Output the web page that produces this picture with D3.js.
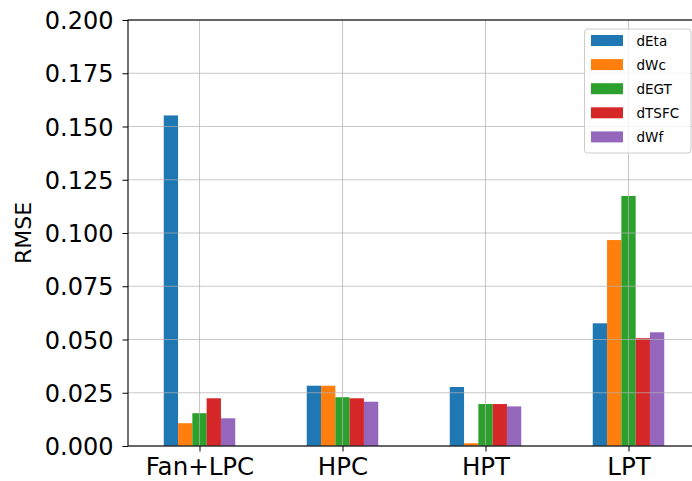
<!DOCTYPE html>
<html>
<head>
<meta charset="utf-8">
<script src="https://cdn.jsdelivr.net/npm/d3@7"></script>
<style>
  html, body { margin: 0; padding: 0; background: #fff; }
  svg { display: block; font-family: "DejaVu Sans", sans-serif; }
</style>
</head>
<body>
<svg id="chart" width="692" height="481"></svg>
<script>
// Engine components and RMSE per parameter
const categories = ["Fan+LPC", "HPC", "HPT", "LPT"];
const seriesNames = ["dEta", "dWc", "dEGT", "dTSFC", "dWf"];
const dEta  = [0.1552, 0.0283, 0.0277, 0.0576];
const dWc   = [0.0107, 0.0283, 0.0013, 0.0967];
const dEGT  = [0.0154, 0.0229, 0.0197, 0.1174];
const dTSFC = [0.0224, 0.0224, 0.0197, 0.0506];
const dWf   = [0.0130, 0.0208, 0.0186, 0.0534];
const yTicks = [0, 0.025, 0.05, 0.075, 0.1, 0.125, 0.15, 0.175, 0.2];
const colors = ["#1f77b4", "#ff7f0e", "#2ca02c", "#d62728", "#9467bd"];

const seriesValues = [dEta, dWc, dEGT, dTSFC, dWf];
const barWidth = 0.1;

const svg = d3.select("#chart");
const plot = { left: 128, right: 700, top: 20, bottom: 446 };

// Categories sit at integer positions; bars are offset around them
const x = d3.scaleLinear().domain([-0.5, 3.5]).range([plot.left, plot.right]);
const y = d3.scaleLinear().domain([0, 0.2]).range([plot.bottom, plot.top]);

// Bars
const bars = svg.append("g");
seriesValues.forEach((vals, j) => {
  bars.selectAll(null)
    .data(vals)
    .join("rect")
    .attr("x", (d, i) => x(i + (j - 2) * barWidth - barWidth / 2))
    .attr("width", x(barWidth) - x(0))
    .attr("y", d => y(d))
    .attr("height", d => y(0) - y(d))
    .attr("fill", colors[j]);
});

// Grid lines drawn over the bars
const grid = svg.append("g")
  .attr("stroke", "#b0b0b0")
  .attr("stroke-opacity", 0.7)
  .attr("stroke-width", 1.1);
grid.selectAll(".hg").data(yTicks).join("line")
  .attr("x1", plot.left).attr("x2", plot.right)
  .attr("y1", d => y(d)).attr("y2", d => y(d));
grid.selectAll(".vg").data(categories).join("line")
  .attr("x1", (d, i) => x(i)).attr("x2", (d, i) => x(i))
  .attr("y1", plot.top).attr("y2", plot.bottom);

// Axes
const yAxis = d3.axisLeft(y)
  .tickValues(yTicks)
  .tickFormat(d3.format(".3f"))
  .tickSize(5.5)
  .tickSizeOuter(0)
  .tickPadding(9);
const yg = svg.append("g")
  .attr("transform", `translate(${plot.left},0)`)
  .call(yAxis);
yg.select(".domain").remove();
yg.selectAll("text")
  .attr("font-size", 24)
  .attr("font-family", "DejaVu Sans")
  .attr("fill", "#000")
  .attr("dy", "0.36em");
yg.selectAll("line").attr("stroke", "#000").attr("stroke-width", 1);

const xAxis = d3.axisBottom(x)
  .tickValues(d3.range(categories.length))
  .tickFormat(i => categories[i])
  .tickSize(5.5)
  .tickSizeOuter(0)
  .tickPadding(6);
const xg = svg.append("g")
  .attr("transform", `translate(0,${plot.bottom})`)
  .call(xAxis);
xg.select(".domain").remove();
xg.selectAll("text")
  .attr("font-size", 24.5)
  .attr("font-family", "DejaVu Sans")
  .attr("fill", "#000");
xg.selectAll("line").attr("stroke", "#000").attr("stroke-width", 1);

// Frame
svg.append("rect")
  .attr("x", plot.left).attr("y", plot.top)
  .attr("width", plot.right - plot.left)
  .attr("height", plot.bottom - plot.top)
  .attr("fill", "none")
  .attr("stroke", "#000")
  .attr("stroke-width", 1.1);

// Y axis title
svg.append("text")
  .attr("transform", `translate(31,${(plot.top + plot.bottom) / 2}) rotate(-90)`)
  .attr("text-anchor", "middle")
  .attr("font-size", 22)
  .attr("fill", "#000")
  .text("RMSE");

// Legend
const legend = svg.append("g");
legend.append("rect")
  .attr("x", 584.5).attr("y", 29)
  .attr("width", 106.5).attr("height", 124)
  .attr("rx", 3)
  .attr("fill", "#fff")
  .attr("fill-opacity", 0.8)
  .attr("stroke", "#cccccc")
  .attr("stroke-width", 1);
const rows = legend.selectAll(".row").data(seriesNames).join("g")
  .attr("transform", (d, i) => `translate(0,${40.5 + i * 24.1})`);
rows.append("rect")
  .attr("x", 591).attr("y", -5.5)
  .attr("width", 32).attr("height", 11)
  .attr("fill", (d, i) => colors[i]);
rows.append("text")
  .attr("x", 636.5).attr("y", 5.5)
  .attr("font-size", 13.5)
  .attr("fill", "#000")
  .text(d => d);
</script>
</body>
</html>
